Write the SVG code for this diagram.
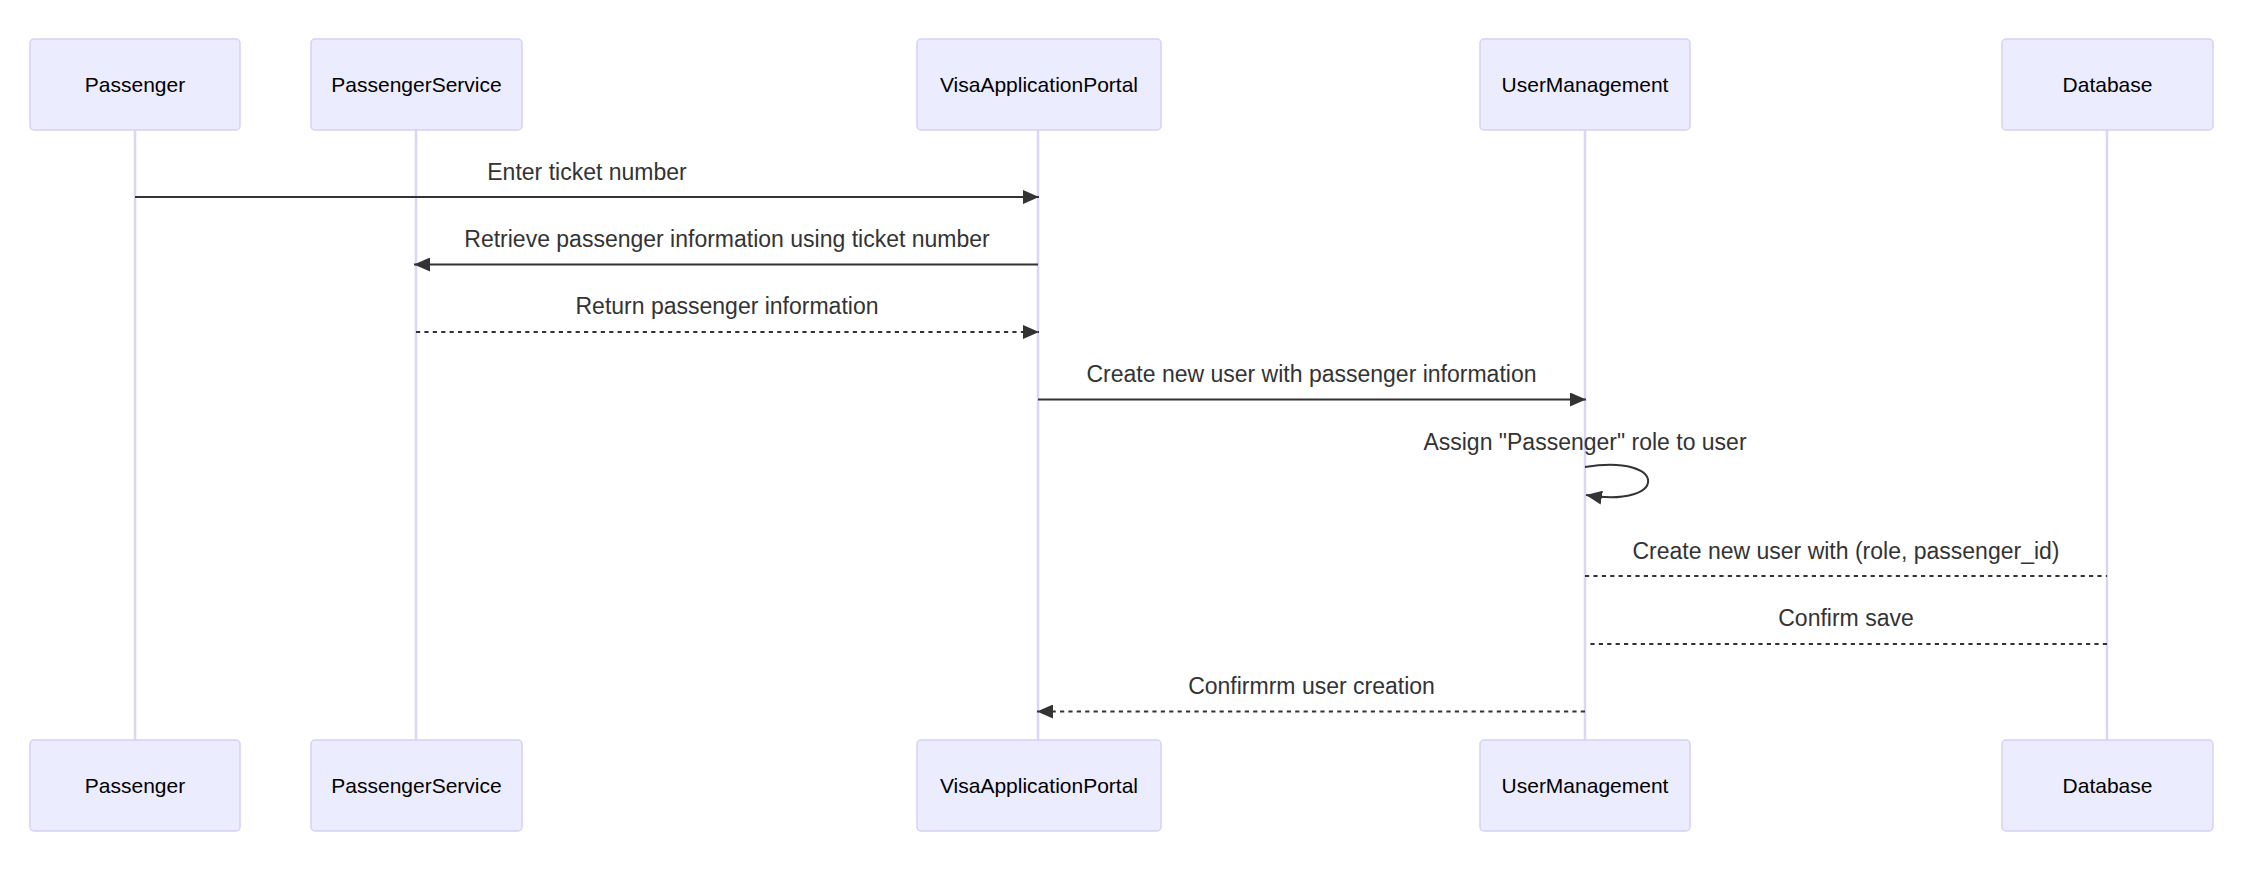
<svg xmlns="http://www.w3.org/2000/svg" width="2254" height="870" viewBox="0 0 2254 870">
<style>
.actor rect{fill:#ECECFF;stroke:#D8D0F5;stroke-width:1.5}
.actor text{font-family:"Liberation Sans",Arial,sans-serif;font-size:21px;fill:#000;text-anchor:middle}
.life{stroke:#DCD5F7;stroke-width:2.5;fill:none}
.msg{stroke:#333;stroke-width:2;fill:none}
.dot{stroke-dasharray:4.2 4.2}
.lbl{font-family:"Liberation Sans",Arial,sans-serif;font-size:23px;fill:#333;text-anchor:middle}
</style>
<defs>
<marker id="arr" viewBox="0 0 16 14" refX="16" refY="7" markerWidth="16" markerHeight="14" markerUnits="userSpaceOnUse" orient="auto">
<path d="M0,0 L16,7 L0,14 z" fill="#333"/>
</marker>
</defs>
<rect width="2254" height="870" fill="#fff"/>
<g id="lifelines">
<line class="life" x1="135" y1="130" x2="135" y2="740"/>
<line class="life" x1="416" y1="130" x2="416" y2="740"/>
<line class="life" x1="1038" y1="130" x2="1038" y2="740"/>
<line class="life" x1="1585" y1="130" x2="1585" y2="740"/>
<line class="life" x1="2107" y1="130" x2="2107" y2="740"/>
</g>
<g id="actor-passenger-top" class="actor"><rect x="30" y="39" width="210" height="91" rx="4"/><text x="135" y="92">Passenger</text></g>
<g id="actor-passengerservice-top" class="actor"><rect x="311" y="39" width="211" height="91" rx="4"/><text x="416.5" y="92">PassengerService</text></g>
<g id="actor-visaapplicationportal-top" class="actor"><rect x="917" y="39" width="244" height="91" rx="4"/><text x="1039" y="92">VisaApplicationPortal</text></g>
<g id="actor-usermanagement-top" class="actor"><rect x="1480" y="39" width="210" height="91" rx="4"/><text x="1585" y="92">UserManagement</text></g>
<g id="actor-database-top" class="actor"><rect x="2002" y="39" width="211" height="91" rx="4"/><text x="2107.5" y="92">Database</text></g>
<g id="actor-passenger-bottom" class="actor"><rect x="30" y="740" width="210" height="91" rx="4"/><text x="135" y="793">Passenger</text></g>
<g id="actor-passengerservice-bottom" class="actor"><rect x="311" y="740" width="211" height="91" rx="4"/><text x="416.5" y="793">PassengerService</text></g>
<g id="actor-visaapplicationportal-bottom" class="actor"><rect x="917" y="740" width="244" height="91" rx="4"/><text x="1039" y="793">VisaApplicationPortal</text></g>
<g id="actor-usermanagement-bottom" class="actor"><rect x="1480" y="740" width="210" height="91" rx="4"/><text x="1585" y="793">UserManagement</text></g>
<g id="actor-database-bottom" class="actor"><rect x="2002" y="740" width="211" height="91" rx="4"/><text x="2107.5" y="793">Database</text></g>
<g id="connectors">
<path class="msg" d="M135,197 H1039" marker-end="url(#arr)"/>
<path class="msg" d="M1038,264.5 H414" marker-end="url(#arr)"/>
<path class="msg dot" d="M416,332 H1039" marker-end="url(#arr)"/>
<path class="msg" d="M1038,399.5 H1586" marker-end="url(#arr)"/>
<path class="msg" d="M1585,467 C1669,453 1669,509 1586,495" marker-end="url(#arr)"/>
<path class="msg dot" d="M1585,576 H2107"/>
<path class="msg dot" d="M2107,644 H1589"/>
<path class="msg dot" d="M1585,711.5 H1037" marker-end="url(#arr)"/>
</g>
<g id="labels">
<text class="lbl" x="587" y="180">Enter ticket number</text>
<text class="lbl" x="727" y="246.5">Retrieve passenger information using ticket number</text>
<text class="lbl" x="727" y="314">Return passenger information</text>
<text class="lbl" x="1311.5" y="381.5">Create new user with passenger information</text>
<text class="lbl" x="1585" y="449.5">Assign "Passenger" role to user</text>
<text class="lbl" x="1846" y="558.5">Create new user with (role, passenger_id)</text>
<text class="lbl" x="1846" y="626">Confirm save</text>
<text class="lbl" x="1311.5" y="693.5">Confirmrm user creation</text>
</g>
</svg>
